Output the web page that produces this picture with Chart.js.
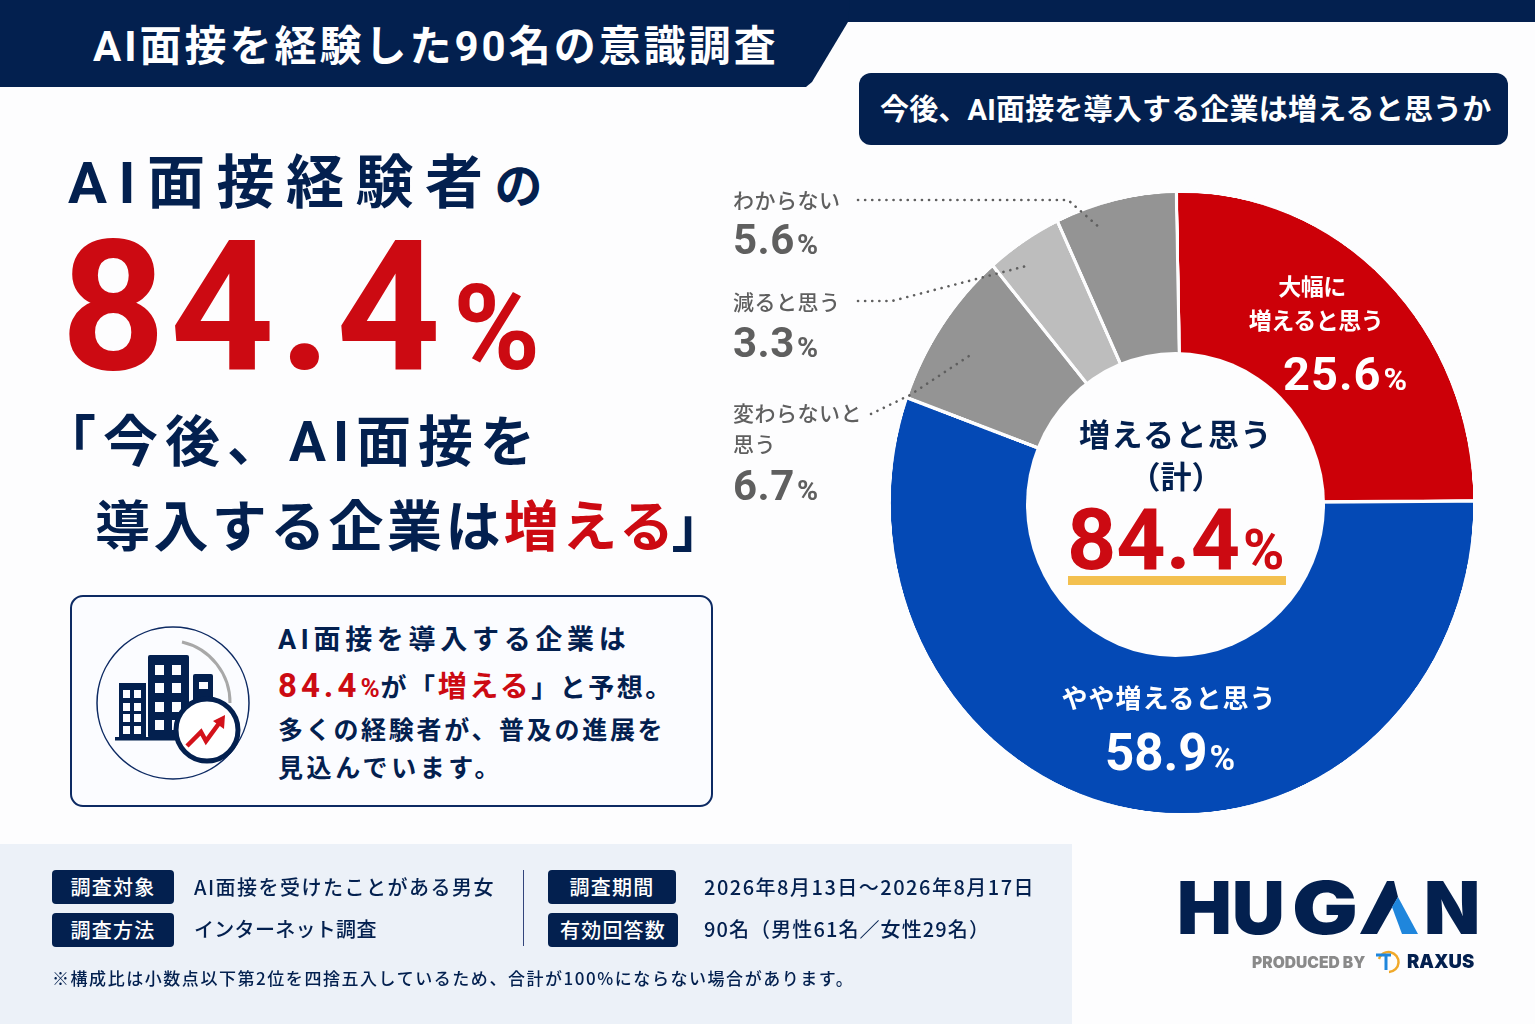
<!DOCTYPE html>
<html lang="ja">
<head>
<meta charset="UTF-8">
<title>AI面接を経験した90名の意識調査</title>
<script src="https://cdn.jsdelivr.net/npm/chart.js"></script>
<style>
  * { box-sizing: border-box; }
  html, body { margin: 0; padding: 0; }
  body {
    position: relative; width: 1535px; height: 1024px; overflow: hidden;
    background: #fdfdfe; color: #03204f;
    font-family: Roboto, "Noto Sans CJK JP", sans-serif;
  }
  .t { position: absolute; white-space: nowrap; line-height: 1; font-weight: 700; transform: translateY(-50%); }
  .c { transform: translate(-50%, -50%); }
  .red { color: #cc0a12; }
  .white { color: #fff; }
  .grey { color: #5f5f5f; }
  .cat { font-size: 21px; letter-spacing: 0.5px; font-weight: 500; font-family: "Noto Sans CJK JP", sans-serif; }
  .num { font-size: 42px; letter-spacing: 0.5px; }
  #topbar { position: absolute; left: 0; top: 0; width: 1535px; height: 22px; background: #03204f; }
  #ribbon { position: absolute; left: 0; top: 0; width: 850px; height: 87px; background: #03204f;
    clip-path: polygon(0 0, 850px 0, 848px 22px, 812px 82px, 806px 87px, 0 87px); }
  #pill { position: absolute; left: 859px; top: 73px; width: 649px; height: 72px; border-radius: 12px; background: #03204f; }
  #box { position: absolute; left: 70px; top: 595px; width: 643px; height: 212px; border: 2px solid #0d2a63; border-radius: 13px; background: #fbfcff; }
  #footer { position: absolute; left: 0; top: 844px; width: 1072px; height: 180px; background: #ecf1f8; }
  .tag { position: absolute; height: 34px; background: #03204f; border-radius: 4px; color: #fff; font-weight: 500;
    font-family: "Noto Sans CJK JP", sans-serif; font-size: 20px; letter-spacing: 1.2px; line-height: 34px; text-align: center; }
  .val { font-size: 20px; letter-spacing: 1.5px; font-weight: 500; font-family: "Noto Sans CJK JP", sans-serif; }
  #divider { position: absolute; left: 523px; top: 870px; width: 1px; height: 76px; background: #33457c; }
  #wrap { position: absolute; width: 640px; height: 640px; left: 862px; top: 183px; transform: scale(0.92, 0.98); transform-origin: 50% 50%; }
  #hole { position: absolute; left: 1026px; top: 352px; width: 299px; height: 305px; border-radius: 50%; background: #fdfdfe; }
  #underline { position: absolute; left: 1068px; top: 576px; width: 218px; height: 9px; background: #f3c04f; }
  svg { position: absolute; left: 0; top: 0; }
</style>
</head>
<body>
  <div id="topbar"></div>
  <div id="ribbon"></div>
  <div class="t white" style="left:93px;top:47px;font-size:42px;letter-spacing:3px">AI面接を経験した90名の意識調査</div>
  <div id="pill"></div>
  <div class="t white" style="left:880px;top:110px;font-size:29px;letter-spacing:0.2px">今後、AI面接を導入する企業は増えると思うか</div>

  <div class="t" style="left:68px;top:183px;font-size:58px;letter-spacing:11.5px">AI面接経験者<span style="font-size:48px;letter-spacing:0">の</span></div>
  <div class="t red" style="left:61px;top:307px;font-size:182px;letter-spacing:4.5px">84.4<span style="font-size:118px;letter-spacing:0;margin-left:8px">%</span></div>
  <div class="t" style="left:41px;top:442px;font-size:55px;letter-spacing:7px">「今後、AI面接を</div>
  <div class="t" style="left:95px;top:527px;font-size:55px;letter-spacing:3.4px">導入する企業は<span class="red">増える</span><span style="margin-left:-6px">」</span></div>

  <div id="box"></div>
  <svg width="1535" height="1024" id="icon">
    <circle cx="173" cy="703" r="76" fill="none" stroke="#0d2a63" stroke-width="1.5"/>
    <path d="M182 642 A62 62 0 0 1 230 703" fill="none" stroke="#a8a8a8" stroke-width="3"/>
    <g fill="#03204f">
      <rect x="119" y="683" width="27" height="55"/>
      <rect x="148" y="655" width="41" height="83" rx="2"/>
      <rect x="193" y="674" width="20" height="40" rx="2"/>
      <rect x="115" y="737" width="68" height="3.5"/>
    </g>
    <g id="windows" fill="#fbfcff"></g>
    <circle cx="207" cy="730" r="31" fill="#fff" stroke="#03204f" stroke-width="5"/>
    <path d="M187 746 L201 732 L206 741 L220 722" fill="none" stroke="#d3121a" stroke-width="4.5"/>
    <path d="M213 721 L225 715 L224 729 Z" fill="#d3121a"/>
  </svg>
  <div class="t" style="left:278px;top:640px;font-size:27px;letter-spacing:4.7px">AI面接を導入する企業は</div>
  <div class="t" style="left:278px;top:685px;font-size:26px;letter-spacing:2.5px"><span class="red" style="font-size:33px;letter-spacing:4px">84.4<span style="font-size:26px;letter-spacing:1px">%</span></span>が「<span class="red" style="font-size:29px">増える</span>」と予想。</div>
  <div class="t" style="left:278px;top:730px;font-size:25px;letter-spacing:2.7px">多くの経験者が、普及の進展を</div>
  <div class="t" style="left:278px;top:768px;font-size:25px;letter-spacing:3.6px">見込んでいます。</div>

  <div id="wrap"><canvas id="donut" width="640" height="640"></canvas></div>
  <div id="hole"></div>
  <svg width="1535" height="1024" fill="none" stroke="#5f5f5f" stroke-width="2.6" stroke-linecap="round" stroke-dasharray="0.1 7">
    <path d="M858 200 L1068 200 L1100 228"/>
    <path d="M858 301 L892 301 L1030 265"/>
    <path d="M871 414 L910 395 L972 354"/>
  </svg>

  <!-- wedge and side labels, text filled in from the arrays below -->
  <div class="t c white" style="left:1312px;top:287px;font-size:23px;letter-spacing:-0.5px" id="cat0a"></div>
  <div class="t c white" style="left:1316px;top:321px;font-size:23px;letter-spacing:-0.5px" id="cat0b"></div>
  <div class="t white pct" data-i="0" style="left:1283px;top:373px;font-size:47px;letter-spacing:1px"></div>
  <div class="t c white" style="left:1169px;top:699px;font-size:26px;letter-spacing:1px" id="cat1"></div>
  <div class="t white pct" data-i="1" style="left:1105px;top:752px;font-size:51px"></div>
  <div class="t grey cat" style="left:733px;top:412px" id="cat2a"></div>
  <div class="t grey cat" style="left:733px;top:443px" id="cat2b"></div>
  <div class="t grey num pct" data-i="2" style="left:733px;top:486px"></div>
  <div class="t grey cat" style="left:733px;top:301px" id="cat3"></div>
  <div class="t grey num pct" data-i="3" style="left:733px;top:343px"></div>
  <div class="t grey cat" style="left:733px;top:199px" id="cat4"></div>
  <div class="t grey num pct" data-i="4" style="left:733px;top:240px"></div>

  <div class="t c" style="left:1176px;top:435px;font-size:31px;letter-spacing:1.5px">増えると思う</div>
  <div class="t c" style="left:1176px;top:477px;font-size:31px">（計）</div>
  <div class="t red" style="left:1067px;top:540px;font-size:86px">84.4<span style="font-size:56px;margin-left:3px">%</span></div>
  <div id="underline"></div>

  <div id="footer"></div>
  <div id="divider"></div>
  <div class="tag" style="left:52px;top:870px;width:122px">調査対象</div>
  <div class="tag" style="left:52px;top:913px;width:122px">調査方法</div>
  <div class="tag" style="left:548px;top:870px;width:128px">調査期間</div>
  <div class="tag" style="left:548px;top:913px;width:130px">有効回答数</div>
  <div class="t val" style="left:194px;top:887px">AI面接を受けたことがある男女</div>
  <div class="t val" style="left:194px;top:929px;letter-spacing:0.3px">インターネット調査</div>
  <div class="t val" style="left:704px;top:887px">2026年8月13日〜2026年8月17日</div>
  <div class="t val" style="left:704px;top:929px;letter-spacing:1.1px">90名（男性61名／女性29名）</div>
  <div class="t" style="left:52px;top:977px;font-size:17px;letter-spacing:1.55px;font-weight:500;font-family:'Noto Sans CJK JP',sans-serif">※構成比は小数点以下第2位を四捨五入しているため、合計が100%にならない場合があります。</div>

  <svg width="1535" height="1024" id="logo">
    <g font-family="Inter, Roboto, sans-serif" font-weight="900" font-size="73" fill="#03204f">
      <text x="1177" y="934">H</text>
      <text x="1232" y="934">U</text>
      <text x="1292" y="934" textLength="66" lengthAdjust="spacingAndGlyphs">G</text>
      <text x="1424" y="934">N</text>
    </g>
    <path d="M1360 934 L1387 881 L1394 881 L1398 897 L1377 934 Z" fill="#03204f"/>
    <path d="M1392 907 L1398 897 L1418 934 L1402 934 Z" fill="#1f86dc"/>
    <text x="1252" y="968" font-family="Inter, Roboto, sans-serif" font-weight="900" font-size="15.6" fill="#8a8a8a">PRODUCED BY</text>
    <path d="M1379 959 A10 10 0 1 1 1389 972" fill="none" stroke="#f0a92a" stroke-width="2.5"/>
    <path d="M1376 955 L1391 955 M1386 955 L1386 970" fill="none" stroke="#1f86dc" stroke-width="3"/>
    <text x="1407" y="968" font-family="Inter, Roboto, sans-serif" font-weight="900" font-size="18.5" fill="#03204f">RAXUS</text>
  </svg>

  <script>
    const categories = ['大幅に増えると思う', 'やや増えると思う', '変わらないと思う', '減ると思う', 'わからない']
    // percentages printed on the reference
    const printedPercents = [25.6, 58.9, 6.7, 3.3, 5.6]
    // wedge sizes as measured off the reference. It does not draw them in proportion
    // to the printed numbers (blue is narrower than 58.9%), so the two are kept apart.
    const drawnShares = [25.2, 55.6, 8.3, 4.2, 6.7]
    const sliceColors = ['#cc0008', '#0449b5', '#949494', '#bdbdbd', '#949494']

    document.getElementById('cat0a').textContent = categories[0].slice(0, 3)
    document.getElementById('cat0b').textContent = categories[0].slice(3)
    document.getElementById('cat1').textContent = categories[1]
    document.getElementById('cat2a').textContent = categories[2].slice(0, 6)
    document.getElementById('cat2b').textContent = categories[2].slice(6)
    document.getElementById('cat3').textContent = categories[3]
    document.getElementById('cat4').textContent = categories[4]
    document.querySelectorAll('.pct').forEach(el => {
      const small = document.createElement('small')
      small.textContent = '%'
      small.style.cssText = 'font-size:.68em;margin-left:2px;letter-spacing:0'
      el.textContent = printedPercents[el.dataset.i].toFixed(1)
      el.appendChild(small)
    })

    // building windows
    const win = document.getElementById('windows')
    function addWindows(xs, ys, w, h) {
      xs.forEach(x => ys.forEach(y => {
        const r = document.createElementNS('http://www.w3.org/2000/svg', 'rect')
        r.setAttribute('x', x); r.setAttribute('y', y)
        r.setAttribute('width', w); r.setAttribute('height', h)
        win.appendChild(r)
      }))
    }
    addWindows([123, 134], [690, 703, 714, 726], 7, 8)
    addWindows([155, 172], [665, 683, 702, 720], 9, 10)
    addWindows([199], [682], 9, 7)

    new Chart(document.getElementById('donut'), {
      type: 'doughnut',
      data: {
        labels: categories,
        datasets: [{
          data: drawnShares,
          backgroundColor: sliceColors,
          borderColor: '#fdfdfe',
          borderWidth: 3.5
        }]
      },
      options: {
        responsive: false,
        animation: false,
        devicePixelRatio: 2,
        cutout: '40%',
        rotation: -1.1,
        plugins: { legend: { display: false }, tooltip: { enabled: false } }
      }
    })
  </script>
</body>
</html>
